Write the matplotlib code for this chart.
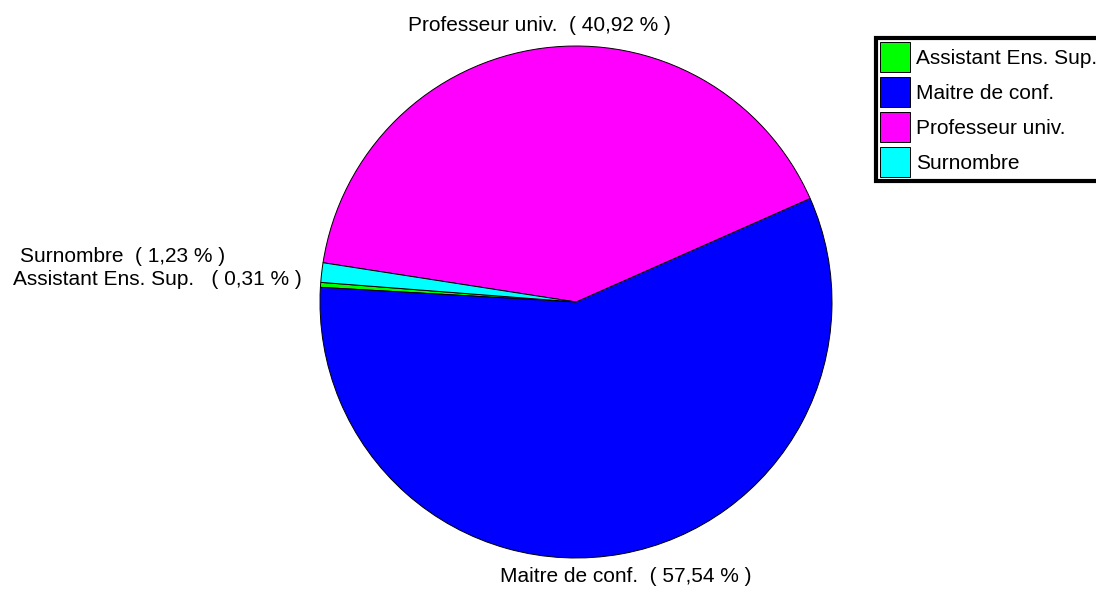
import numpy as np
import matplotlib
matplotlib.use("Agg")
import matplotlib.pyplot as plt

plt.rcParams['font.family'] = ['Liberation Sans', 'DejaVu Sans']

# data
names = ["Assistant Ens. Sup.", "Maitre de conf.", "Professeur univ.", "Surnombre"]
pcts = [0.31, 57.54, 40.92, 1.23]
colors = ["#00ff00", "#0000ff", "#ff00ff", "#00ffff"]

fig = plt.figure(figsize=(10.96, 5.92), dpi=100)
cx, cy, r = 576, 302, 256
ax = fig.add_axes([(cx - r) / 1096, (592 - cy - r) / 592, 2 * r / 1096, 2 * r / 592])

wedges, _ = ax.pie(pcts, colors=colors, startangle=175.6, counterclock=True,
                   wedgeprops=dict(edgecolor="black", linewidth=0.7))
ax.set_xlim(-1, 1)
ax.set_ylim(-1, 1)
ax.set_aspect("auto")
ax.axis("off")

def fmt(v):
    return ("%.2f" % v).replace(".", ",")

labels = [f"{n}   ( {fmt(p)} % )" if n.startswith("Assistant") else f"{n}  ( {fmt(p)} % )"
          for n, p in zip(names, pcts)]

# label positions: from wedge mid-angle, left-side small slices pushed apart
for w, lab, n in zip(wedges, labels, names):
    mid = np.deg2rad((w.theta1 + w.theta2) / 2)
    x, y = 1.09 * np.cos(mid), 1.09 * np.sin(mid)
    if n == "Surnombre":
        x, y = -1.77, 0.176
    elif n.startswith("Assistant"):
        x, y = -1.637, 0.086
    ax.text(x, y, lab, ha="center", va="center", fontsize=15, clip_on=False)

leg = fig.legend(wedges, names, loc="upper left",
                 bbox_to_anchor=(876 / 1096, 1 - 38 / 592),
                 fontsize=15, frameon=True, fancybox=False, framealpha=1,
                 handlelength=1.43, handleheight=1.84, handletextpad=0.3,
                 labelspacing=0.24, borderpad=0.2, borderaxespad=0)
leg.get_frame().set_edgecolor("black")
leg.get_frame().set_linewidth(3)

fig.savefig("out.png", dpi=100)
